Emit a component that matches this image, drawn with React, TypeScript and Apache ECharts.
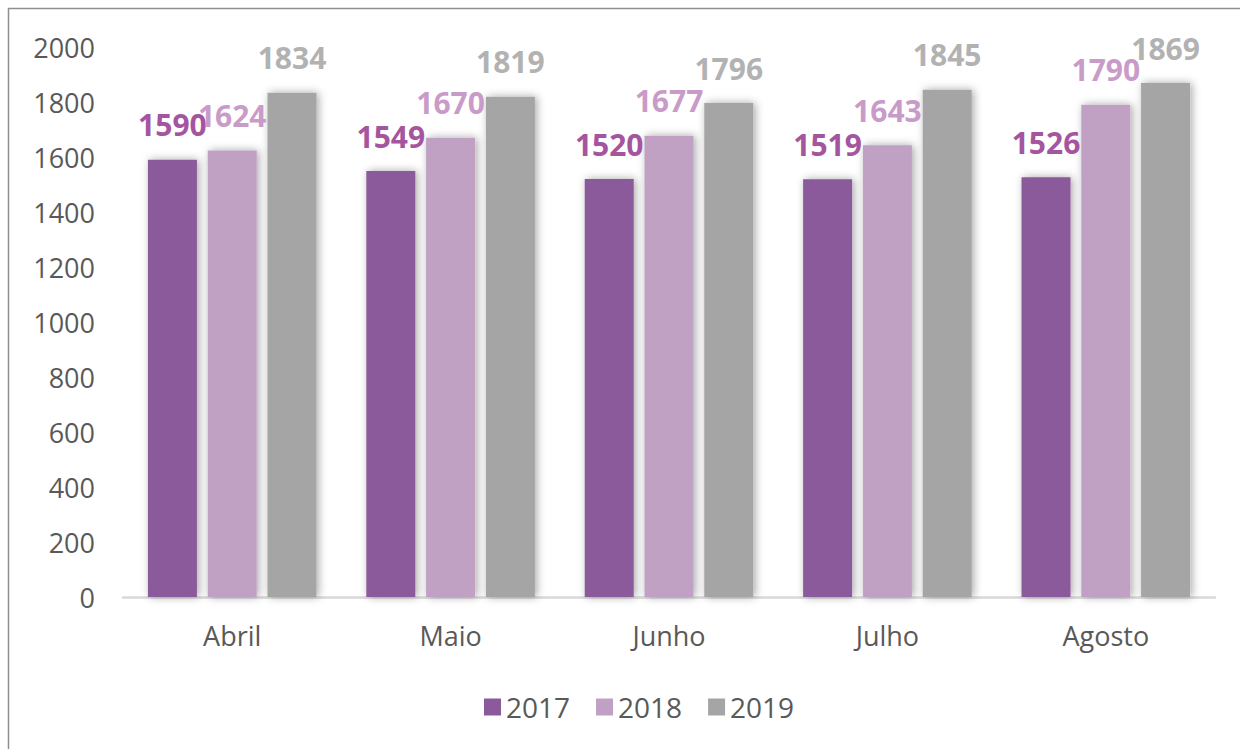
import React, { useEffect, useRef } from "react";
import * as echarts from "echarts";

const categories = ["Abril", "Maio", "Junho", "Julho", "Agosto"];
const seriesNames = ["2017", "2018", "2019"];
const values2017 = [1590, 1549, 1520, 1519, 1526];
const values2018 = [1624, 1670, 1677, 1643, 1790];
const values2019 = [1834, 1819, 1796, 1845, 1869];
const barColors = ["#8a5a9a", "#c0a0c3", "#a5a5a5"];
const labelColors = ["#a5559f", "#c99bc8", "#b2b2b2"];

const FONT = "'Open Sans', 'Noto Sans', sans-serif";

export default function App() {
  const ref = useRef<HTMLDivElement>(null);
  useEffect(() => {
    if (!ref.current) return;
    const chart = echarts.init(ref.current, undefined, { renderer: "svg" });
    const data = [values2017, values2018, values2019];
    chart.setOption({
      animation: false,
      backgroundColor: "#ffffff",
      textStyle: { fontFamily: FONT },
      graphic: [
        {
          type: "rect",
          shape: { x: 8.5, y: 8.5, width: 1400, height: 900 },
          style: { fill: "none", stroke: "#8f8f8f", lineWidth: 1.5 },
          silent: true,
        },
      ],
      grid: { left: 123, right: 25, top: 47, bottom: 152 },
      legend: {
        left: 479,
        top: 688,
        itemWidth: 17,
        itemHeight: 17,
        itemGap: 26,
        icon: "rect",
        data: seriesNames,
        textStyle: { fontFamily: FONT, fontSize: 28, color: "#595959", padding: [0, 0, 0, 0] },
      },
      xAxis: {
        type: "category",
        data: categories,
        axisLine: { lineStyle: { color: "#d9d9d9", width: 2.5 } },
        axisTick: { show: false },
        axisLabel: { fontFamily: FONT, fontSize: 27, color: "#595959", margin: 25 },
      },
      yAxis: {
        type: "value",
        min: 0,
        max: 2000,
        interval: 200,
        splitLine: { show: false },
        axisLine: { show: false },
        axisTick: { show: false },
        axisLabel: {
          fontFamily: FONT,
          fontSize: 27,
          color: "#595959",
          margin: 28,
          formatter: (v: number) => String(v),
        },
      },
      series: seriesNames.map((name, i) => ({
        name,
        type: "bar",
        data: data[i],
        barWidth: 49,
        barGap: "22%",
        itemStyle: {
          color: barColors[i],
          shadowBlur: 8,
          shadowColor: "rgba(0,0,0,0.35)",
          shadowOffsetX: 2,
          shadowOffsetY: 0,
        },
        label: {
          show: true,
          position: "top",
          distance: 20,
          fontFamily: FONT,
          fontSize: 30,
          fontWeight: "bold",
          color: labelColors[i],
        },
      })),
    });
    return () => chart.dispose();
  }, []);
  return (
    <div
      ref={ref}
      style={{ position: "fixed", left: 0, top: 0, width: 1240, height: 749 }}
    />
  );
}
